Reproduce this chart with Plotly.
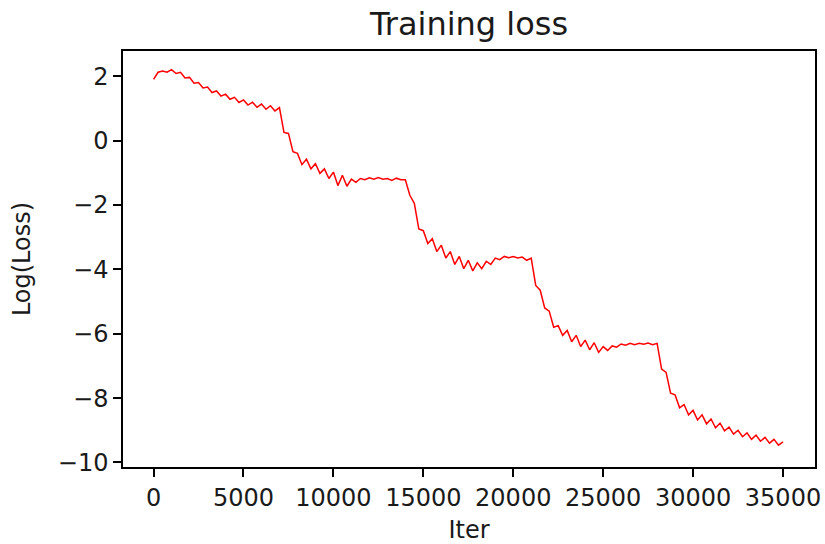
import plotly.graph_objects as go

# Training loss (log scale) recorded every 250 iterations
step = 250
log_loss = [
    1.90, 2.12, 2.16, 2.12, 2.20, 2.08, 2.12, 1.94, 1.96, 1.78,
    1.80, 1.63, 1.66, 1.49, 1.54, 1.38, 1.44, 1.28, 1.34, 1.18,
    1.26, 1.10, 1.19, 1.03, 1.13, 0.97, 1.08, 0.92, 1.02,
    0.25, 0.22, -0.35, -0.40, -0.75, -0.58, -0.88, -0.72, -1.02, -0.88,
    -1.18, -0.98, -1.40, -1.08, -1.42, -1.20, -1.30, -1.18, -1.22, -1.16,
    -1.20, -1.15, -1.20, -1.18, -1.24, -1.17, -1.22, -1.22,
    -1.70, -1.95, -2.75, -2.80, -3.20, -3.05, -3.45, -3.25, -3.65, -3.45,
    -3.85, -3.60, -3.98, -3.72, -4.05, -3.80, -3.98, -3.75, -3.85, -3.65,
    -3.70, -3.60, -3.64, -3.60, -3.65, -3.62, -3.72, -3.65,
    -4.50, -4.65, -5.20, -5.30, -5.80, -5.75, -6.05, -5.90, -6.25, -6.05,
    -6.40, -6.20, -6.50, -6.28, -6.58, -6.40, -6.52, -6.38, -6.42, -6.32,
    -6.36, -6.30, -6.34, -6.30, -6.33, -6.29, -6.34, -6.30,
    -7.10, -7.20, -7.85, -7.90, -8.30, -8.20, -8.52, -8.38, -8.68, -8.52,
    -8.80, -8.65, -8.92, -8.78, -9.02, -8.90, -9.12, -9.00, -9.20, -9.08,
    -9.28, -9.15, -9.34, -9.22, -9.40, -9.28, -9.46, -9.36,
]
iters = [i * step for i in range(len(log_loss))]

x_ticks = [0, 5000, 10000, 15000, 20000, 25000, 30000, 35000]
y_ticks = [2, 0, -2, -4, -6, -8, -10]

font = "DejaVu Sans"
text_color = "#1a1a1a"

fig = go.Figure(
    go.Scatter(
        x=iters,
        y=log_loss,
        mode="lines",
        line=dict(color="#ff0000", width=1.5),
        showlegend=False,
    )
)

axis_common = dict(
    showline=True,
    mirror=True,
    linecolor="black",
    linewidth=1.5,
    ticks="outside",
    ticklen=8,
    tickwidth=1.5,
    tickcolor="black",
    showgrid=False,
    zeroline=False,
    automargin=False,
    tickfont=dict(family=font, size=24, color=text_color),
)

fig.update_xaxes(
    range=[-1700, 36780],
    tickvals=x_ticks,
    ticktext=[str(v) for v in x_ticks],
    title=dict(text="Iter", font=dict(family=font, size=24, color=text_color), standoff=18),
    **axis_common,
)
fig.update_yaxes(
    range=[-10.14, 2.78],
    tickvals=y_ticks,
    ticktext=[str(v).replace("-", "\u2212") for v in y_ticks],
    title=dict(text="Log(Loss)", font=dict(family=font, size=24, color=text_color), standoff=20),
    **axis_common,
)

fig.update_layout(
    width=825,
    height=544,
    margin=dict(l=123, r=10, t=51, b=77),
    paper_bgcolor="white",
    plot_bgcolor="white",
    title=dict(
        text="Training loss",
        font=dict(family=font, size=32, color=text_color),
        x=(123 + 815) / 2 / 825,
        xanchor="center",
        y=1 - 24 / 544,
        yanchor="middle",
        yref="container",
    ),
)

fig.write_html("out.html")
